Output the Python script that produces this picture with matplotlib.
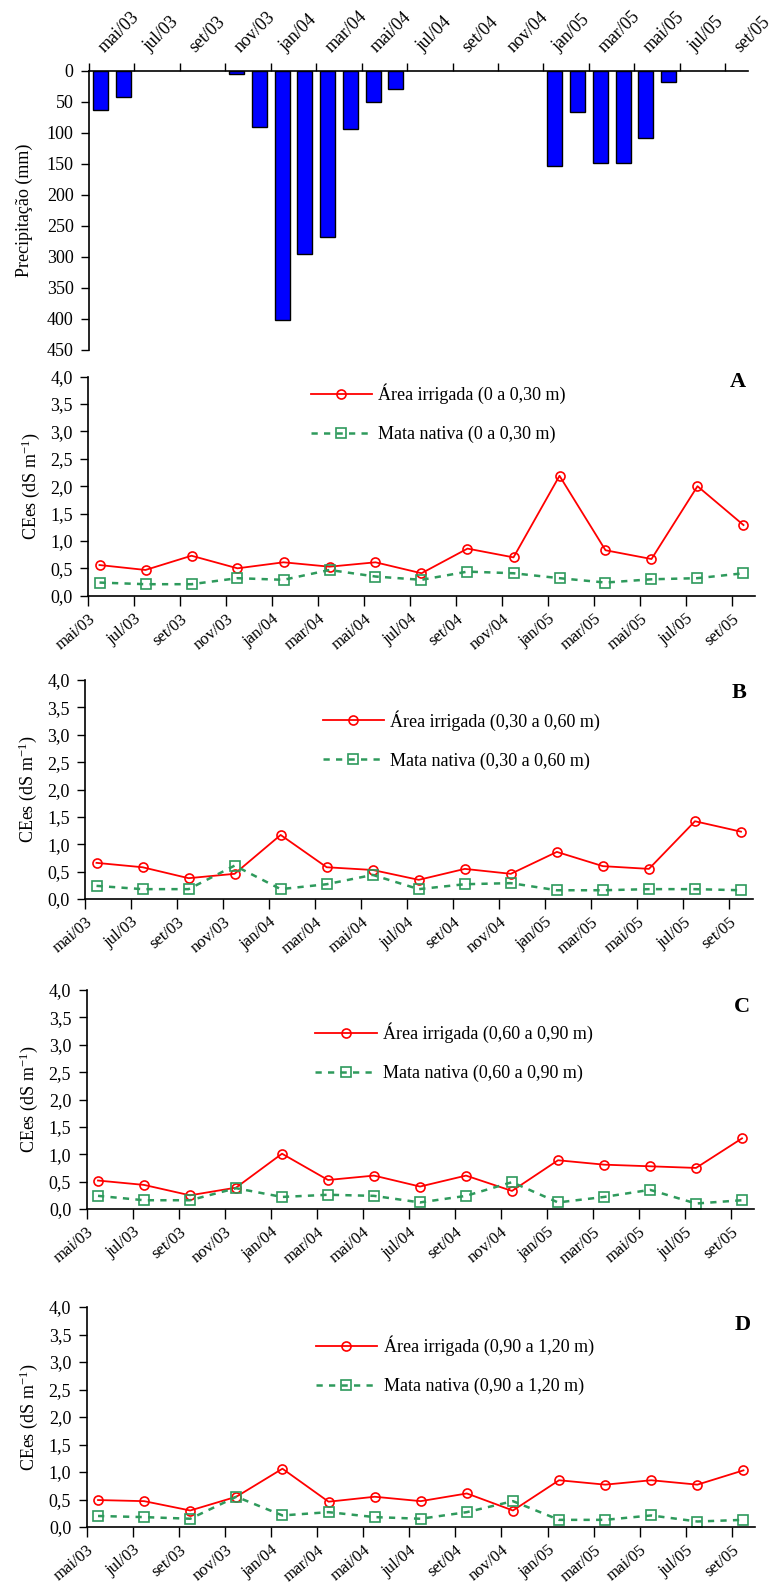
import matplotlib
matplotlib.use("Agg")
import matplotlib.pyplot as plt
import numpy as np

plt.rcParams['font.family'] = ['Liberation Serif', 'DejaVu Serif']
plt.rcParams['mathtext.fontset'] = 'custom'
plt.rcParams['mathtext.rm'] = 'Liberation Serif'
plt.rcParams['mathtext.it'] = 'Liberation Serif:italic'
plt.rcParams['mathtext.default'] = 'regular'

# meses (mai/03 a set/05)
meses = ['mai/03', 'jun/03', 'jul/03', 'ago/03', 'set/03', 'out/03', 'nov/03', 'dez/03',
         'jan/04', 'fev/04', 'mar/04', 'abr/04', 'mai/04', 'jun/04', 'jul/04', 'ago/04',
         'set/04', 'out/04', 'nov/04', 'dez/04', 'jan/05', 'fev/05', 'mar/05', 'abr/05',
         'mai/05', 'jun/05', 'jul/05', 'ago/05', 'set/05']
rotulos = meses[::2]

# precipitação mensal (mm)
chuva = [63, 43, 0, 0, 0, 0, 6, 91, 401, 295, 268, 94, 51, 29, 0, 0, 0, 0, 0, 0,
         153, 66, 148, 148, 108, 19, 0, 0, 0]

# CEes (dS/m), coletas bimestrais
irrig_A = [0.56, 0.47, 0.73, 0.50, 0.61, 0.53, 0.61, 0.41, 0.86, 0.70, 2.19, 0.83, 0.67, 2.00, 1.29]
mata_A = [0.24, 0.21, 0.21, 0.32, 0.29, 0.47, 0.35, 0.29, 0.44, 0.41, 0.32, 0.24, 0.30, 0.32, 0.41]
irrig_B = [0.66, 0.58, 0.38, 0.46, 1.17, 0.58, 0.53, 0.35, 0.55, 0.46, 0.86, 0.60, 0.55, 1.42, 1.23]
mata_B = [0.24, 0.18, 0.18, 0.61, 0.18, 0.27, 0.44, 0.18, 0.27, 0.29, 0.16, 0.16, 0.18, 0.18, 0.16]
irrig_C = [0.52, 0.44, 0.25, 0.39, 1.01, 0.53, 0.61, 0.41, 0.61, 0.33, 0.89, 0.81, 0.78, 0.75, 1.29]
mata_C = [0.24, 0.16, 0.16, 0.38, 0.22, 0.26, 0.24, 0.12, 0.24, 0.49, 0.12, 0.22, 0.35, 0.10, 0.16]
irrig_D = [0.49, 0.47, 0.30, 0.55, 1.06, 0.46, 0.55, 0.47, 0.61, 0.30, 0.85, 0.77, 0.85, 0.77, 1.03]
mata_D = [0.20, 0.18, 0.15, 0.55, 0.21, 0.27, 0.18, 0.15, 0.27, 0.47, 0.13, 0.13, 0.21, 0.10, 0.13]

camadas = ['0 a 0,30 m', '0,30 a 0,60 m', '0,60 a 0,90 m', '0,90 a 1,20 m']
letras = ['A', 'B', 'C', 'D']

FS = 13
W, H = 781, 1587
fig = plt.figure(figsize=(W / 100, H / 100), dpi=100)

def eixo(l, t, r, b):
    # posição em pixels -> fração da figura
    return fig.add_axes([l / W, 1 - b / H, (r - l) / W, (b - t) / H])

# ---- precipitação ----
ax0 = eixo(89, 70.7, 748, 350)
x_mes = np.arange(len(meses)) + 0.5
chuva = np.array(chuva)
tem = chuva > 0   # meses sem chuva não desenham barra
ax0.bar(x_mes[tem], chuva[tem], width=0.66, color='#0000ff', edgecolor='black', linewidth=1)
ax0.set_xlim(0, 29)
ax0.set_ylim(450, 0)
ax0.set_yticks(np.arange(0, 451, 50))
ax0.xaxis.tick_top()
ax0.set_xticks(np.arange(0, 29, 2))
ax0.set_xticklabels([])
ax0.set_xticks(np.arange(0, 29, 2) + 0.8, minor=True)
ax0.set_xticklabels(rotulos, minor=True, rotation=45, ha='left', va='bottom',
                    rotation_mode='anchor', fontsize=FS)
ax0.tick_params(axis='x', which='minor', length=0, pad=11)
ax0.tick_params(axis='x', which='major', direction='out', length=6, width=1)
ax0.tick_params(axis='y', direction='out', length=6, width=1, labelsize=FS, pad=5)
for s in ['right', 'bottom']:
    ax0.spines[s].set_visible(False)
for s in ['top', 'left']:
    ax0.spines[s].set_linewidth(1.2)
ax0.set_ylabel('Precipitação (mm)', fontsize=FS, labelpad=10)

# ---- CEes ----
caixas = [(88, 376.7, 755, 595.7), (85, 680, 752.5, 899),
          (86.5, 990, 753.5, 1209), (86.5, 1307, 755, 1527)]
leg_pos = [(0.334, 0.968), (0.356, 0.862), (0.343, 0.852), (0.343, 0.87)]
letra_pos = [(0.975, 0.975), (0.98, 0.94), (0.983, 0.922), (0.981, 0.918)]
irrig = [irrig_A, irrig_B, irrig_C, irrig_D]
mata = [mata_A, mata_B, mata_C, mata_D]
x_col = np.arange(0, 29, 2) + 0.5

for k in range(4):
    ax = eixo(*caixas[k])
    ax.plot(x_col, irrig[k], color='#ff0000', lw=1.3, marker='o', ms=6.5,
            mfc='none', mec='#ff0000', mew=1.2, label='Área irrigada (' + camadas[k] + ')')
    ax.plot(x_col, mata[k], color='#2e9a5c', lw=1.8, ls=(0, (2.5, 2.5)), marker='s', ms=6.5,
            mfc='none', mec='#2e9a5c', mew=1.2, label='Mata nativa (' + camadas[k] + ')')
    ax.set_xlim(0, 29)
    ax.set_ylim(0, 4)
    yt = np.arange(0, 4.01, 0.5)
    ax.set_yticks(yt)
    ax.set_yticklabels([f'{v:.1f}'.replace('.', ',') for v in yt], fontsize=FS)
    ax.set_xticks(np.arange(0, 29, 2))
    ax.set_xticklabels(rotulos, rotation=40, ha='right', va='top',
                       rotation_mode='anchor', fontsize=12)
    ax.tick_params(axis='x', direction='out', length=7, width=1, pad=4)
    ax.tick_params(axis='y', direction='out', length=6, width=1, pad=5)
    for s in ['right', 'top']:
        ax.spines[s].set_visible(False)
    for s in ['bottom', 'left']:
        ax.spines[s].set_linewidth(1.2)
    ax.set_ylabel('CEes (dS m$^{-1}$)', fontsize=FS, labelpad=6)
    ax.legend(loc='upper left', bbox_to_anchor=leg_pos[k], frameon=False,
              fontsize=FS, handlelength=3.4, handletextpad=0.35, labelspacing=1.2,
              borderpad=0, borderaxespad=0)
    ax.text(letra_pos[k][0], letra_pos[k][1], letras[k], transform=ax.transAxes,
            fontsize=16, fontweight='bold', ha='center', va='center')

fig.savefig('out.png', dpi=100)
